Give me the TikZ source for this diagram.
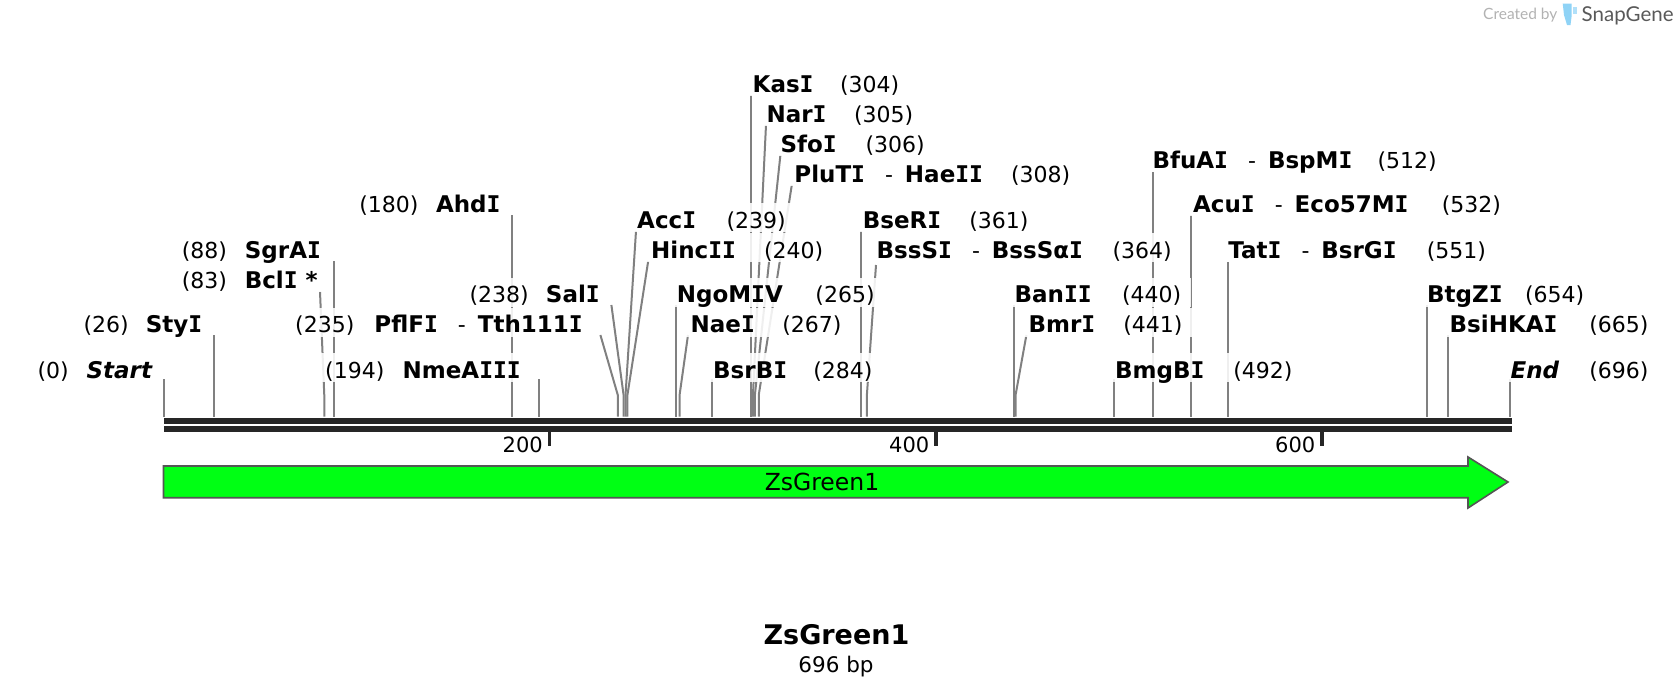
\documentclass[tikz,border=0pt]{standalone}
\usepackage{fontspec}
\setmainfont{DejaVu Sans}
\newfontfamily\logofont{Lato}
\newfontfamily\monofam{DejaVu Sans Mono}
\usetikzlibrary{positioning,calc}
\definecolor{barcol}{HTML}{262626}
\definecolor{linecol}{HTML}{808080}
\definecolor{genecol}{HTML}{00FF14}
\definecolor{edgecol}{HTML}{555555}
\definecolor{tubecol}{HTML}{8FD3F6}
\newcommand{\serI}{{\monofam\bfseries I}}
\newcommand{\bn}[1]{{\fontsize{23}{26}\selectfont\bfseries #1}}
\newcommand{\pairname}[2]{\bn{#1}\hspace{20pt}-\hspace{12pt}\bn{#2}}
\tikzset{
  sitelabel/.style={anchor=base west,xshift=-10pt,fill=white,fill opacity=0.88,text opacity=1,inner xsep=10pt,inner ysep=0pt,
    text height=25pt,text depth=4pt,font=\fontsize{22}{26}\selectfont},
  siteline/.style={draw=linecol,line width=2pt},
  ticklabel/.style={anchor=base east,inner sep=0pt,font=\fontsize{21}{25}\selectfont},
}
\begin{document}
\begin{tikzpicture}[x=1pt,y=-1pt]
  \useasboundingbox (0,0) rectangle (1676,696);
  % straight lines
  \foreach \pos/\ty in {0/379,26/335,88/261,180/215,194/379,265/305,284/379,304/95,361/231,440/305,
      492/379,512/171.7,532/215,551/261.7,654/305,665/335} {
    \coordinate (site\pos) at ({164+1.931*\pos},416.7);
    \coordinate (top\pos) at ({164+1.931*\pos},\ty);
    \draw[siteline] (top\pos) -- (site\pos);
  }
  \coordinate (site696) at (1509.6,416.7);
  \coordinate (top696) at (1509.6,379);
  \draw[siteline] (top696) -- (site696);
  % bent lines
  \foreach \pos/\tx/\ty in {83/320/291.7,235/600.4/335,238/611.4/305,239/636/231,240/648.2/261,267/688/335,
      305/766/125,306/780.4/155,308/791.8/185,364/876/265,441/1026.4/335} {
    \coordinate (site\pos) at ({164+1.931*\pos},416.7);
    \coordinate (bend\pos) at ({164+1.931*\pos},395);
    \coordinate (top\pos) at (\tx,\ty);
    \draw[siteline] (top\pos) -- (bend\pos) -- (site\pos);
  }
  % labels with the number on the right
  \foreach \pos/\lx/\ly/\lw/\nm in {
      304/752.5/92/146.5/{\bn{Kas\serI}},
      305/766.4/122/146.6/{\bn{Nar\serI}},
      306/780.3/152/144.3/{\bn{Sfo\serI}},
      308/794.2/182/275.8/{\pairname{PluT\serI}{Hae\serI\serI}},
      512/1152.3/168/284.3/{\pairname{BfuA\serI}{BspM\serI}},
      532/1192.9/212/307.9/{\pairname{Acu\serI}{Eco57M\serI}},
      551/1228.2/258/257.6/{\pairname{Tat\serI}{BsrG\serI}},
      239/637/228/148.6/{\bn{Acc\serI}},
      240/651/258/172/{\bn{Hinc\serI\serI}},
      361/862.6/228/165.7/{\bn{BseR\serI}},
      364/876.5/258/295/{\pairname{BssS\serI}{BssSα\serI}},
      265/676.6/302.5/197.8/{\bn{NgoM\serI V}},
      267/690.5/332.5/150.7/{\bn{Nae\serI}},
      284/713/378.4/159.2/{\bn{BsrB\serI}},
      440/1014.4/302.5/166.6/{\bn{Ban\serI\serI}},
      441/1028.3/332.5/153.9/{\bn{Bmr\serI}},
      492/1114.9/378.4/177.4/{\bn{BmgB\serI}},
      654/1427/302.5/157/{\bn{BtgZ\serI}},
      665/1449.5/332.5/198.8/{\bn{BsiHKA\serI}},
      696/1510.4/378.4/137.9/{\bn{\itshape End}}} {
    \node[sitelabel] (lab\pos) at (\lx,\ly) {\makebox[\lw pt][s]{\nm\hfill(\pos)}\hspace{3pt}};
  }
  % labels with the number on the left
  \foreach \pos/\lx/\ly/\lw/\nm in {
      0/37.4/378.4/114.4/{\bn{\itshape Start}},
      26/83.4/332.5/118.6/{\bn{Sty\serI}},
      83/181.7/288/135.8/{\bn{Bcl\serI\ *}},
      88/181.7/258/139/{\bn{SgrA\serI}},
      180/359.2/212/141.1/{\bn{Ahd\serI}},
      194/325/378.4/195.6/{\bn{NmeA\serI\serI\serI}},
      235/295/332.5/287.6/{\pairname{PflF\serI}{Tth111\serI}},
      238/469.3/302.5/130.3/{\bn{Sal\serI}}} {
    \node[sitelabel] (lab\pos) at (\lx,\ly) {\makebox[\lw pt][s]{(\pos)\hfill\nm}\hspace{3pt}};
  }
  % double bar with ticks
  \fill[barcol] (163.5,418) rectangle (1512,424);
  \fill[barcol] (163.5,426) rectangle (1512,431.7);
  \foreach \tickval/\tx in {200/549.5,400/936,600/1322} {
    \fill[barcol] (\tx-1.8,431) rectangle (\tx+1.8,445.7);
    \node[ticklabel] (tick\tickval) at (\tx-6.5,452.7) {\tickval};
  }
  % feature arrow
  \draw[draw=edgecol,line width=1.6pt,fill=genecol,line join=miter]
    (163.5,466) -- (1468,466) -- (1468,457) -- (1508,482) -- (1468,508) -- (1468,497.7) -- (163.5,497.7) -- cycle;
  \node[inner sep=0pt,font=\fontsize{23.5}{28}\selectfont] (gene) at (822,482) {ZsGreen1};
  % title
  \node[inner sep=0pt,font=\fontsize{27}{32}\selectfont\bfseries] (title) at (836.5,635) {ZsGreen1};
  \node[inner sep=0pt,font=\fontsize{21.5}{26}\selectfont] (size) at (836,667) {696 bp};
  % logo
  \node[anchor=west,inner sep=0pt,text=black!30,font=\logofont\fontsize{15.5}{18}\selectfont] (created) at (1483,15.5) {Created by};
  \node[anchor=west,inner sep=0pt,text=black!30!gray,font=\logofont\fontsize{20.5}{24}\selectfont] (snapgene) at (1581.5,15.5) {SnapGene};
  \fill[tubecol] (1562.7,3.5) -- (1571.5,3.5) -- (1571.5,17) -- (1570.5,25) -- (1567,25) -- (1564,15) -- cycle;
  \fill[tubecol!70] (1572.5,6.5) -- (1576.7,6.5) -- (1576.7,14) -- (1572.5,14) -- cycle;
\end{tikzpicture}
\end{document}
